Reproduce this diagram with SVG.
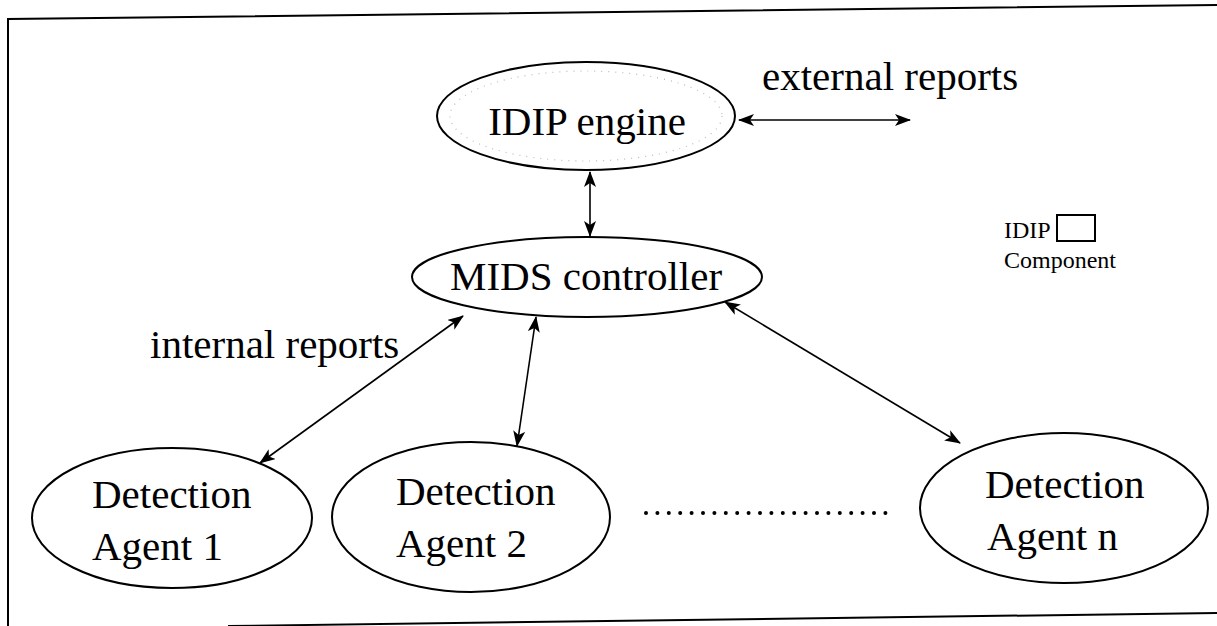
<svg xmlns="http://www.w3.org/2000/svg" width="1217" height="626" viewBox="0 0 1217 626">
<defs>
<style>
.node{fill:#fff;stroke:#000;stroke-width:2}
.t{font-family:"Liberation Serif","Times New Roman",serif;font-size:41px;fill:#000}
.s{font-family:"Liberation Serif","Times New Roman",serif;font-size:24px;fill:#000}
.c{fill:none;stroke:#000;stroke-width:1.6}
.frame{fill:none;stroke:#000;stroke-width:2}
</style>
<marker id="ah" viewBox="0 0 16 12" markerWidth="16" markerHeight="12" refX="15" refY="6" orient="auto-start-reverse" markerUnits="userSpaceOnUse">
<path d="M0,0 L16,6 L0,12 L4,6 z" fill="#000"/>
</marker>
</defs>
<rect width="1217" height="626" fill="#fff"/>
<g id="frame">
<path class="frame" d="M8,626 L8,19 L1217,5"/>
<path class="frame" d="M228,626 L1217,613"/>
</g>
<g id="connectors">
<line class="c" x1="739" y1="120" x2="910" y2="120" marker-start="url(#ah)" marker-end="url(#ah)"/>
<line class="c" x1="590" y1="172" x2="590" y2="236" marker-start="url(#ah)" marker-end="url(#ah)"/>
<line class="c" x1="260" y1="463" x2="463" y2="316" marker-start="url(#ah)" marker-end="url(#ah)"/>
<line class="c" x1="517" y1="446" x2="536" y2="317" marker-start="url(#ah)" marker-end="url(#ah)"/>
<line class="c" x1="725" y1="302" x2="960" y2="443" marker-start="url(#ah)" marker-end="url(#ah)"/>
</g>
<g id="idip-engine">
<ellipse class="node" cx="586" cy="116" rx="149" ry="54"/>
<ellipse cx="586" cy="116" rx="136" ry="45" fill="none" stroke="#bbb" stroke-width="1.2" stroke-dasharray="1 6"/>
<text class="t" x="587" y="135" text-anchor="middle">IDIP engine</text>
</g>
<text class="t" x="762" y="90">external reports</text>
<g id="mids-controller">
<ellipse class="node" cx="587" cy="277" rx="175" ry="40"/>
<text class="t" x="586" y="290" text-anchor="middle">MIDS controller</text>
</g>
<text class="t" x="150" y="358">internal reports</text>
<g id="legend">
<text class="s" x="1004" y="238">IDIP</text>
<rect x="1057" y="215" width="38" height="26" fill="#fff" stroke="#000" stroke-width="2"/>
<text class="s" x="1004" y="268">Component</text>
</g>
<g id="agent-1">
<ellipse class="node" cx="172" cy="518" rx="140" ry="70"/>
<text class="t" x="92" y="508">Detection</text>
<text class="t" x="92" y="560">Agent 1</text>
</g>
<g id="agent-2">
<ellipse class="node" cx="471" cy="517" rx="139" ry="75"/>
<text class="t" x="396" y="505">Detection</text>
<text class="t" x="396" y="557">Agent 2</text>
</g>
<line x1="646" y1="513" x2="886" y2="513" stroke="#000" stroke-width="4" stroke-linecap="round" stroke-dasharray="0 11.4"/>
<g id="agent-n">
<ellipse class="node" cx="1064" cy="508" rx="144" ry="75"/>
<text class="t" x="985" y="498">Detection</text>
<text class="t" x="987" y="550">Agent n</text>
</g>
</svg>
